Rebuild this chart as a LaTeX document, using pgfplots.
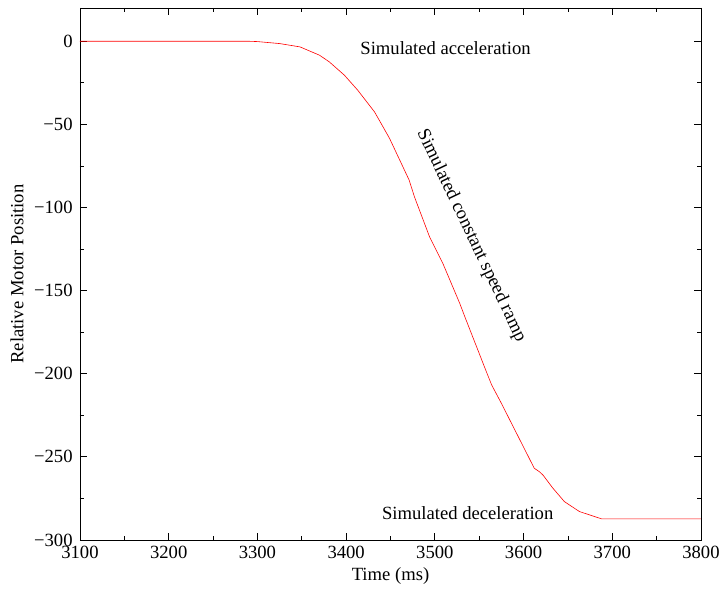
\documentclass[border=0pt]{standalone}
\usepackage{fontspec}
\setmainfont{Liberation Serif}
\usepackage{pgfplots}
\pgfplotsset{compat=1.18}

% Motor position relative to start, sampled from the run log
\pgfplotstableread{
t p
3100 0
3290 0
3300 -0.2
3325 -1.4
3348 -3.4
3370 -8.4
3381 -12.4
3398 -20.4
3413 -29.4
3432 -42.5
3440 -50
3449 -58.5
3471 -83.5
3477 -93.6
3494 -117.6
3509 -133.6
3528 -157.6
3534 -166
3558 -198.7
3564 -206.7
3575 -217.8
3612 -256.8
3618 -259
3622 -261
3633 -268.8
3646 -276.9
3663 -282.9
3688 -287.3
3800 -287.3
}\motorpos

\newcommand\chartfont{\fontsize{18.7}{22}\selectfont}

\begin{document}
\chartfont
\begin{tikzpicture}
\begin{axis}[
  scale only axis,
  width=621bp, height=532bp,
  xmin=3100, xmax=3800,
  ymin=-300, ymax=20,
  xtick={3100,3200,...,3800},
  xticklabels={3100,3200,3300,3400,3500,3600,3700,3800},
  ytick={-300,-250,...,0},
  yticklabels={−300,−250,−200,−150,−100,−50,0},
  minor x tick num=1,
  minor y tick num=1,
  tick align=inside,
  major tick length=7bp,
  minor tick length=4bp,
  every tick/.style={black, line width=0.8pt},
  axis line style={line width=0.9pt},
  tick label style={font=\chartfont},
  label style={font=\chartfont},
  xlabel={Time (ms)},
  ylabel={Relative Motor Position},
  xlabel style={yshift=4bp},
  ylabel style={yshift=-2bp},
  yticklabel style={xshift=-1bp},
  clip=false,
]
\addplot[red, line width=0.6pt] table[x=t, y=p] {\motorpos};
\node[font=\chartfont] at (axis cs:3512,-4.2) {Simulated acceleration};
\node[font=\chartfont] at (axis cs:3537,-283.6) {Simulated deceleration};
\node[font=\chartfont, rotate=-64.5] at (axis cs:3541,-117) {Simulated constant speed ramp};
\end{axis}
\pgfresetboundingbox
\path (current axis.south west) ++(-80bp,-49bp) rectangle ++(720bp,589bp);
\end{tikzpicture}
\end{document}
